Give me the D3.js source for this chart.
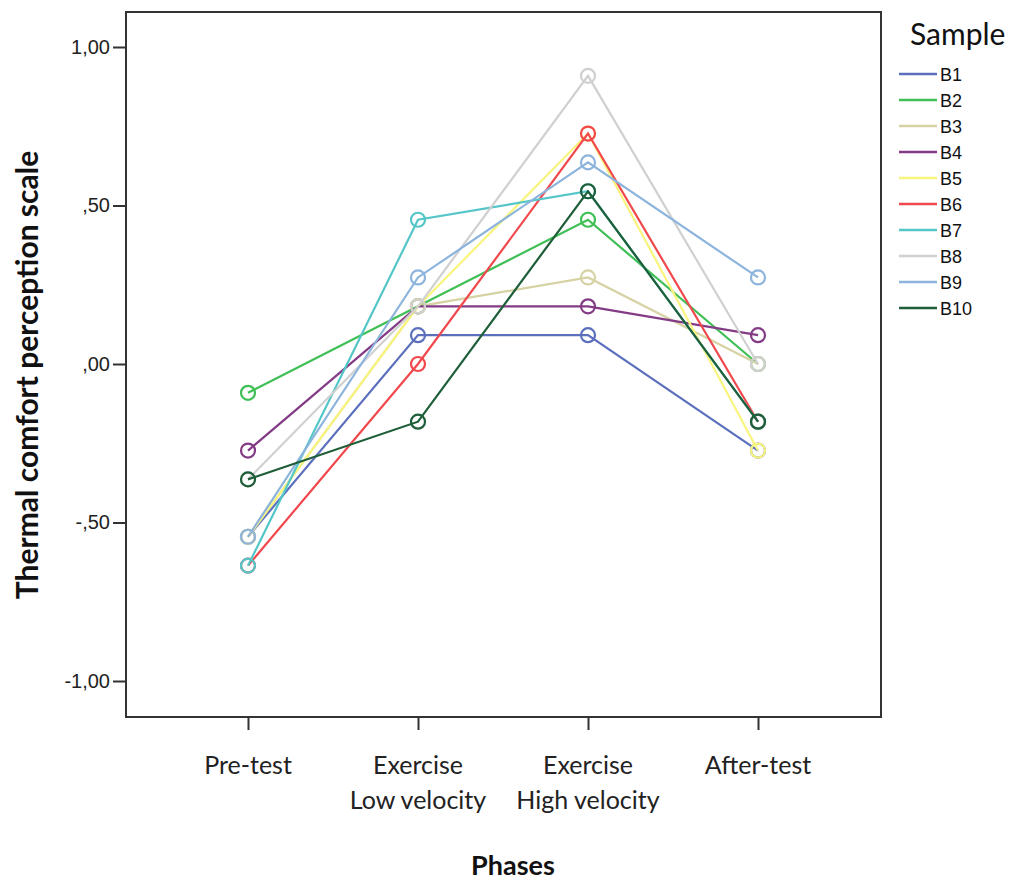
<!DOCTYPE html>
<html>
<head>
<meta charset="utf-8">
<script src="https://cdn.jsdelivr.net/npm/d3@7"></script>
<style>
  body { margin: 0; background: #fff; }
  svg { display: block; }
</style>
</head>
<body>
<svg id="chart"></svg>
<script>
// phases on the x axis, two-line labels
const phases = ["Pre-test", "Exercise Low velocity", "Exercise High velocity", "After-test"];
const phaseLabels = [["Pre-test"], ["Exercise", "Low velocity"], ["Exercise", "High velocity"], ["After-test"]];

const samples = ["B1", "B2", "B3", "B4", "B5", "B6", "B7", "B8", "B9", "B10"];
const colors = ["#5b6fbd", "#3fbf55", "#d6d2a4", "#843b86", "#f8f47e", "#f0484c",
                "#55c6c8", "#d0d0d0", "#8cb4dc", "#1e5e38"];

// values per sample, one per phase
const B1 = [-0.545, 0.091, 0.091, -0.273];
const B2 = [-0.091, 0.182, 0.455, 0.0];
const B3 = [-0.545, 0.182, 0.273, 0.0];
const B4 = [-0.273, 0.182, 0.182, 0.091];
const B5 = [-0.545, 0.182, 0.727, -0.273];
const B6 = [-0.636, 0.0, 0.727, -0.182];
const B7 = [-0.636, 0.455, 0.545, -0.182];
const B8 = [-0.364, 0.182, 0.909, 0.0];
const B9 = [-0.545, 0.273, 0.636, 0.273];
const B10 = [-0.364, -0.182, 0.545, -0.182];
const seriesValues = [B1, B2, B3, B4, B5, B6, B7, B8, B9, B10];

const yTicks = [1, 0.5, 0, -0.5, -1];
const yTickLabels = ["1,00", ",50", ",00", "-,50", "-1,00"];

const W = 1017, H = 881;
const svg = d3.select('#chart').attr('width', W).attr('height', H);

const frame = {left: 126, right: 881, top: 12, bottom: 717};

let scX = d3.scalePoint()
    .domain(phases)
    .range([248, 758]);
let scY = d3.scaleLinear()
    .domain([-1, 1])
    .range([681, 47]);

// plot frame
svg.append('rect')
    .attr('x', frame.left).attr('y', frame.top)
    .attr('width', frame.right - frame.left).attr('height', frame.bottom - frame.top)
    .attr('fill', 'none').attr('stroke', '#333').attr('stroke-width', 2);

// y axis
let yAxis = d3.axisLeft(scY)
    .tickValues(yTicks)
    .tickFormat((d, i) => yTickLabels[i])
    .tickSize(13).tickPadding(3);
let gy = svg.append('g')
    .attr('transform', `translate(${frame.left},0)`)
    .call(yAxis);
gy.select('.domain').remove();
gy.selectAll('line').attr('stroke', '#333').attr('stroke-width', 2);
gy.selectAll('text')
    .attr('font-family', 'Liberation Sans, Arial, sans-serif')
    .attr('font-size', 20).attr('fill', '#222');

// x axis ticks (hang below the frame)
let xAxis = d3.axisBottom(scX).tickSize(13).tickFormat('');
let gx = svg.append('g')
    .attr('transform', `translate(0,${frame.bottom})`)
    .call(xAxis);
gx.select('.domain').remove();
gx.selectAll('line').attr('stroke', '#333').attr('stroke-width', 2);

// category labels
phases.forEach((p, i) => {
    let t = svg.append('text')
        .attr('x', scX(p)).attr('y', 774)
        .attr('text-anchor', 'middle')
        .attr('font-family', 'Lato, sans-serif')
        .attr('font-size', 25).attr('fill', '#222');
    phaseLabels[i].forEach((line, j) => {
        t.append('tspan').attr('x', scX(p)).attr('dy', j === 0 ? 0 : 35).text(line);
    });
});

// axis titles
svg.append('text')
    .attr('x', 513).attr('y', 875)
    .attr('text-anchor', 'middle')
    .attr('font-family', 'Lato, sans-serif').attr('font-weight', 'bold')
    .attr('font-size', 27).attr('fill', '#111')
    .text('Phases');

svg.append('text')
    .attr('transform', 'translate(38,375) rotate(-90)')
    .attr('text-anchor', 'middle')
    .attr('font-family', 'Lato, sans-serif').attr('font-weight', 'bold')
    .attr('font-size', 30).attr('fill', '#111')
    .text('Thermal comfort perception scale');

// lines + circles
let line = d3.line()
    .x((d, i) => scX(phases[i]))
    .y(d => scY(d));

let series = svg.selectAll('g.series')
    .data(seriesValues).enter().append('g')
    .attr('class', 'series');

series.append('path')
    .attr('d', d => line(d))
    .attr('fill', 'none')
    .attr('stroke', (d, i) => colors[i])
    .attr('stroke-width', 2.2);

series.each(function (vals, i) {
    d3.select(this).selectAll('circle')
        .data(vals).enter().append('circle')
        .attr('cx', (d, k) => scX(phases[k]))
        .attr('cy', d => scY(d))
        .attr('r', 7)
        .attr('fill', 'none')
        .attr('stroke', colors[i])
        .attr('stroke-width', 2.2);
});

// legend
svg.append('text')
    .attr('x', 910).attr('y', 45)
    .attr('font-family', 'Lato, sans-serif')
    .attr('font-size', 30).attr('fill', '#111')
    .text('Sample');

let lg = svg.selectAll('g.legend')
    .data(samples).enter().append('g')
    .attr('class', 'legend')
    .attr('transform', (d, i) => `translate(0,${74 + i * 26})`);
lg.append('line')
    .attr('x1', 899).attr('x2', 937)
    .attr('stroke', (d, i) => colors[i])
    .attr('stroke-width', 2.5);
lg.append('text')
    .attr('x', 940).attr('y', 7)
    .attr('font-family', 'Liberation Sans, Arial, sans-serif')
    .attr('font-size', 18).attr('fill', '#111')
    .text(d => d);
</script>
</body>
</html>
